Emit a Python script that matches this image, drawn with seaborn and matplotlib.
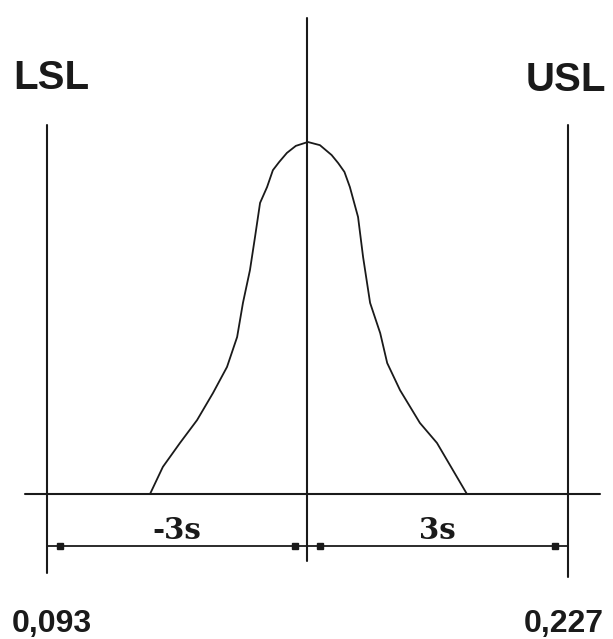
import numpy as np
import pandas as pd
import matplotlib
matplotlib.use("Agg")
import matplotlib.pyplot as plt
import seaborn as sns

# spec limits and process centre
lsl = 0.093
usl = 0.227
centre = 0.160
limit_names = ["LSL", "USL"]
limit_labels = ["0,093", "0,227"]
span_labels = ["-3s", "3s"]

# hand drawn distribution curve (relative height, peak = 1)
curve_x = [0.1195, 0.1228, 0.1272, 0.1316, 0.1357, 0.1393, 0.1419, 0.1434,
           0.1452, 0.1465, 0.1478, 0.1496, 0.1511, 0.1527, 0.1547, 0.1570,
           0.1601,
           0.1632, 0.1662, 0.1679, 0.1695, 0.1709, 0.1730, 0.1743, 0.1761,
           0.1787, 0.1805, 0.1838, 0.1889, 0.1933, 0.2010]
curve_y = [0.0, 0.077, 0.145, 0.210, 0.287, 0.361, 0.446, 0.543,
           0.636, 0.730, 0.827, 0.872, 0.920, 0.943, 0.969, 0.989,
           1.0,
           0.991, 0.963, 0.940, 0.915, 0.872, 0.787, 0.673, 0.543,
           0.457, 0.372, 0.295, 0.202, 0.145, 0.0]

sns.set_style("white")
fig = plt.figure(figsize=(6.13, 6.39), dpi=100)
ax = fig.add_axes([0, 0, 1, 1])

col = "#1a1a1a"
df = pd.DataFrame({"x": curve_x, "y": curve_y})
sns.lineplot(data=df, x="x", y="y", color=col, lw=1.3, ax=ax, sort=False)

# base line
ax.axhline(0, xmin=0.041, xmax=0.979, color=col, lw=1.5)
# spec limit lines and centre line
ax.plot([lsl, lsl], [1.048, -0.224], color=col, lw=1.5)
ax.plot([usl, usl], [1.048, -0.235], color=col, lw=1.5)
ax.plot([centre, centre], [1.352, -0.19], color=col, lw=1.5)

# dimension line with small square "arrow heads"
dim_y = -0.148
ax.plot([lsl, usl], [dim_y, dim_y], color=col, lw=1.3)
off = 0.0033
ax.plot([lsl + off, centre - off, centre + off, usl - off], [dim_y] * 4,
        ls="none", marker="s", ms=5, color=col)

bold_serif = dict(family="DejaVu Serif", weight="bold", fontsize=21)
ax.text((lsl + centre) / 2, dim_y + 0.002, span_labels[0],
        ha="center", va="bottom", color=col, **bold_serif)
ax.text((centre + usl) / 2, dim_y + 0.002, span_labels[1],
        ha="center", va="bottom", color=col, **bold_serif)

sans = dict(family="Liberation Sans", weight="bold", color=col)
ax.text(lsl + 0.001, 1.182, limit_names[0], ha="center", va="center",
        fontsize=29, **sans)
ax.text(usl - 0.0005, 1.176, limit_names[1], ha="center", va="center",
        fontsize=29, **sans)
ax.text(lsl + 0.0013, -0.369, limit_labels[0], ha="center", va="center",
        fontsize=23, **sans)
ax.text(usl - 0.001, -0.369, limit_labels[1], ha="center", va="center",
        fontsize=23, **sans)

ax.set_xlim(0.080912, 0.238574)
ax.set_ylim(-145 / 352, 494 / 352)
ax.axis("off")

fig.savefig("out.png", dpi=100, facecolor="white")
